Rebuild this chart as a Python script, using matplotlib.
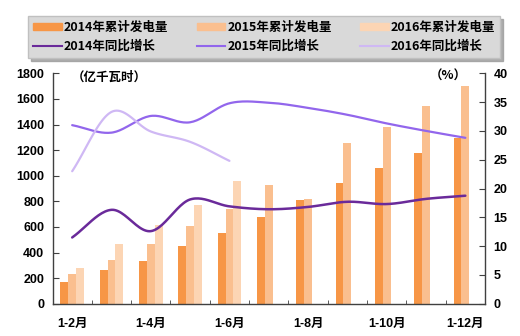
import numpy as np
import matplotlib
matplotlib.use("Agg")
import matplotlib.pyplot as plt
from matplotlib.patches import Patch
from matplotlib.lines import Line2D

plt.rcParams['font.family'] = ['Liberation Sans', 'Noto Sans CJK SC', 'DejaVu Sans']
plt.rcParams['font.weight'] = 'bold'

months = ['1-2月', '1-3月', '1-4月', '1-5月', '1-6月', '1-7月',
          '1-8月', '1-9月', '1-10月', '1-11月', '1-12月']

# 累计发电量 (亿千瓦时)
gen_2014 = [171, 262, 330, 452, 553, 677, 808, 940, 1061, 1180, 1292]
gen_2015 = [231, 345, 468, 608, 740, 925, 816, 1256, 1383, 1541, 1703]
gen_2016 = [278, 465, 613, 771, 961]

# 同比增长 (%)
yoy_2014 = [11.5, 16.3, 12.6, 18.1, 16.9, 16.4, 16.8, 17.7, 17.3, 18.2, 18.75]
yoy_2015 = [31.0, 29.7, 32.6, 31.5, 34.8, 34.9, 34.0, 32.8, 31.3, 30.0, 28.8]
yoy_2016 = [23.0, 33.3, 29.9, 28.1, 24.8]

c_bar = ['#f79646', '#fabf8f', '#fcd5b4']
c_line = ['#6a2a9a', '#9266ec', '#cfb8f4']


def smooth(x, y, n=24):
    # catmull-rom curve through the points, like excel's smoothed line
    pts = np.column_stack([x, y]).astype(float)
    P = np.vstack([2 * pts[0] - pts[1], pts, 2 * pts[-1] - pts[-2]])
    out = []
    t = np.linspace(0, 1, n, endpoint=False)[:, None]
    for i in range(1, len(P) - 2):
        p0, p1, p2, p3 = P[i - 1:i + 3]
        seg = 0.5 * (2 * p1 + (-p0 + p2) * t
                     + (2 * p0 - 5 * p1 + 4 * p2 - p3) * t ** 2
                     + (-p0 + 3 * p1 - 3 * p2 + p3) * t ** 3)
        out.append(seg)
    out.append(pts[-1:])
    s = np.vstack(out)
    return s[:, 0], s[:, 1]


fig = plt.figure(figsize=(5.2, 3.36), dpi=100)
ax = fig.add_axes([0.101, 0.0961, 0.8317, 0.6857])
ax2 = ax.twinx()

x = np.arange(len(months))
w = 0.2
ax.bar(x - w, gen_2014, w, color=c_bar[0], zorder=2)
ax.bar(x, gen_2015, w, color=c_bar[1], zorder=2)
ax.bar(np.arange(len(gen_2016)) + w, gen_2016, w, color=c_bar[2], zorder=2)

for vals, col, lw in [(yoy_2014, c_line[0], 1.8), (yoy_2015, c_line[1], 1.6),
                      (yoy_2016, c_line[2], 1.6)]:
    sx, sy = smooth(np.arange(len(vals)), vals)
    ax2.plot(sx, sy, color=col, lw=lw, solid_capstyle='round')

ax.set_xlim(-0.5, len(months) - 0.5)
ax.set_ylim(0, 1800)
ax.set_yticks(range(0, 1801, 200))
ax2.set_ylim(0, 40)
ax2.set_yticks(range(0, 41, 5))

ax.set_xticks(x[::2])
ax.set_xticklabels(months[::2])
ax.set_xticks(np.arange(0.5, len(months) - 0.5), minor=True)
ax.tick_params(axis='x', which='major', length=0, pad=10, labelsize=9)
ax.tick_params(axis='x', which='minor', direction='in', length=3, color='#404040')
ax.tick_params(axis='y', direction='in', length=4, color='#404040', labelsize=9, pad=6)
ax2.tick_params(axis='y', direction='in', length=4, color='#404040', labelsize=9, pad=6)

for a in (ax, ax2):
    a.spines['top'].set_visible(False)
    for s in a.spines.values():
        s.set_color('#404040')
        s.set_linewidth(1.0)
ax.spines['right'].set_visible(False)
ax2.spines['left'].set_visible(False)
ax2.spines['bottom'].set_visible(False)

fig.text(0.138, 0.771, '（亿千瓦时）', fontsize=9, fontweight='bold', va='center',
         family=['Noto Sans CJK SC', 'DejaVu Sans'])
fig.text(0.826, 0.774, '（%）', fontsize=9, fontweight='bold', va='center',
         family=['Noto Sans CJK SC', 'DejaVu Sans'])

labels = ['2014年累计发电量', '2014年同比增长', '2015年累计发电量',
          '2015年同比增长', '2016年累计发电量', '2016年同比增长']
handles = [Patch(color=c_bar[0]), Line2D([], [], color=c_line[0], lw=1.5),
           Patch(color=c_bar[1]), Line2D([], [], color=c_line[1], lw=1.5),
           Patch(color=c_bar[2]), Line2D([], [], color=c_line[2], lw=1.5)]
leg = fig.legend(handles, labels, ncol=3, loc='center',
                 bbox_to_anchor=(0.054, 0.8244, 0.908, 0.131), mode='expand',
                 fontsize=9, handlelength=2.3, handleheight=0.45, handletextpad=0.15,
                 columnspacing=1.6, borderaxespad=0, frameon=True, fancybox=False,
                 shadow={'color': '#9a9a9a', 'alpha': 0.8}, labelspacing=0.5,
                 prop={'family': ['Noto Sans CJK SC', 'DejaVu Sans'], 'weight': 'bold', 'size': 9})
leg.get_frame().set_facecolor('#d9d9d9')
leg.get_frame().set_edgecolor('#c0c0c0')
leg.get_frame().set_alpha(1)

fig.savefig('out.png', dpi=100)
